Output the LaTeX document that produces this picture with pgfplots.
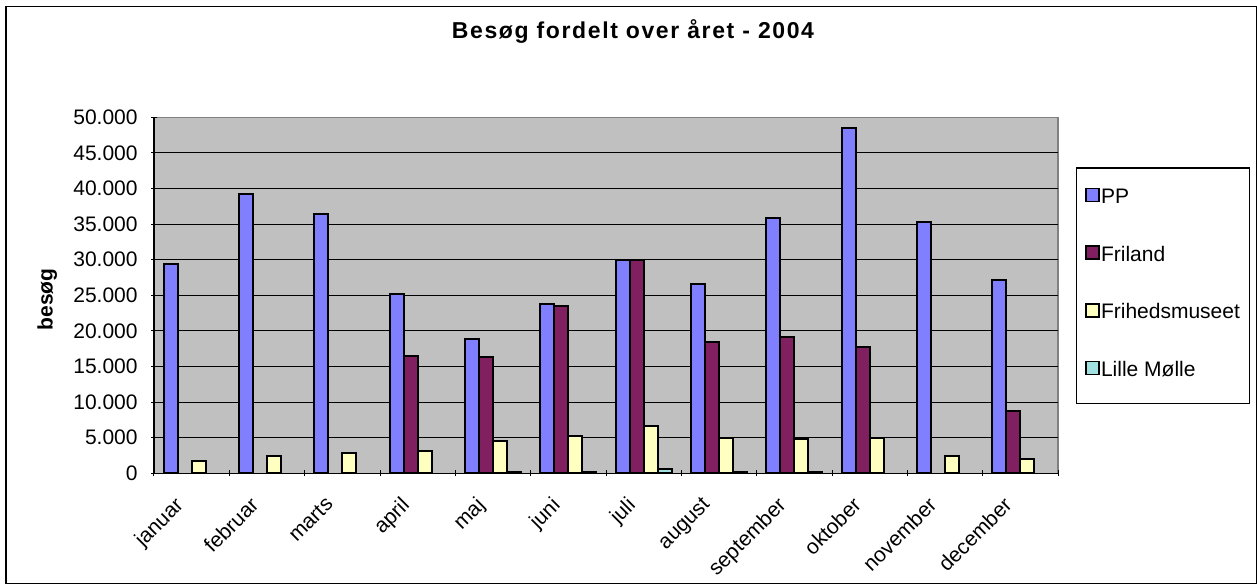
\documentclass[border=0pt]{standalone}
\usepackage{fontspec}
\setmainfont{Liberation Sans}
\newfontfamily\titlefont[LetterSpace=7]{Liberation Sans}
\usepackage{pgfplots}
\pgfplotsset{compat=1.18}
\definecolor{ppc}{HTML}{8080FF}
\definecolor{frc}{HTML}{802060}
\definecolor{fhc}{HTML}{FFFFC0}
\definecolor{lmc}{HTML}{A0E0E0}
\definecolor{plotbg}{HTML}{C0C0C0}
\begin{document}
\begin{tikzpicture}
\useasboundingbox (0,0) rectangle (628.5pt,292pt);
\draw[line width=0.65pt] (3pt,0.4pt) rectangle (628.1pt,288.7pt);
\node[anchor=base, font=\titlefont\bfseries\fontsize{11.5}{13}\selectfont] at (316.5pt,272.5pt) {Besøg fordelt over året - 2004};
\node[rotate=90, anchor=base, font=\bfseries\fontsize{10.5}{12}\selectfont] at (26.3pt,142.25pt) {besøg};
\begin{axis}[
  at={(77pt,55.33pt)}, anchor=south west,
  scale only axis, width=452pt, height=178pt,
  ybar=0pt, bar width=7pt,
  xmin=-0.5, xmax=11.5, ymin=0, ymax=50000,
  xtick={-0.5,0.5,...,11.5},
  x tick label as interval,
  xticklabels={januar,februar,marts,april,maj,juni,juli,august,september,oktober,november,december},
  ytick={0,5000,...,45000},
  extra y ticks={50000},
  extra y tick style={grid=none},
  ymajorgrids,
  grid style={black, line width=0.5pt},
  tick align=outside, major tick length=3pt,
  tick style={black, line width=0.5pt},
  axis x line=bottom, axis y line=left,
  axis line style={-, black, line width=0.6pt},
  axis background/.style={fill=plotbg, draw=gray, line width=0.6pt},
  scaled y ticks=false,
  /pgf/number format/fixed,
  /pgf/number format/1000 sep={.},
  /pgf/number format/assume math mode=true,
  yticklabel style={font=\fontsize{10.5}{12}\selectfont, inner sep=0pt, anchor=east, xshift=-6.5pt},
  xticklabel style={font=\fontsize{10.5}{12}\selectfont, xshift=-9pt, yshift=-9.5pt, rotate=45, anchor=north east, inner sep=0pt},
  legend style={at={(1.01991,0.85955)}, anchor=north west, draw=black, line width=0.65pt, fill=white,
    inner xsep=4.4pt, inner ysep=9.75pt, row sep=16.8pt,
    font=\fontsize{10.5}{12}\selectfont,
    nodes={inner xsep=0.5pt, inner ysep=0pt, text height=8pt, text depth=4pt}},
  legend cell align=left,
  every axis plot post/.append style={legend image code/.code={\draw[##1, line width=0.8pt] (-1.5pt,-1pt) rectangle (5pt,5.5pt);}},
]
\addplot[fill=ppc, draw=black, line width=1pt] coordinates {
(0,29400) (1,39300) (2,36400) (3,25200) (4,18800) (5,23800)
(6,29900) (7,26600) (8,35900) (9,48500) (10,35300) (11,27200)};
\addplot[fill=frc, draw=black, line width=1pt] coordinates {
(3,16500) (4,16300) (5,23500) (6,29950) (7,18500) (8,19100) (9,17700) (11,8700)};
\addplot[fill=fhc, draw=black, line width=1pt] coordinates {
(0,1700) (1,2500) (2,2800) (3,3100) (4,4500) (5,5300)
(6,6700) (7,5000) (8,4800) (9,5000) (10,2500) (11,2000)};
\addplot[fill=lmc, draw=black, line width=1pt] coordinates {
(4,250) (5,250) (6,600) (7,250) (8,250)};
\legend{PP,Friland,Frihedsmuseet,Lille Mølle}
\end{axis}
\end{tikzpicture}
\end{document}
